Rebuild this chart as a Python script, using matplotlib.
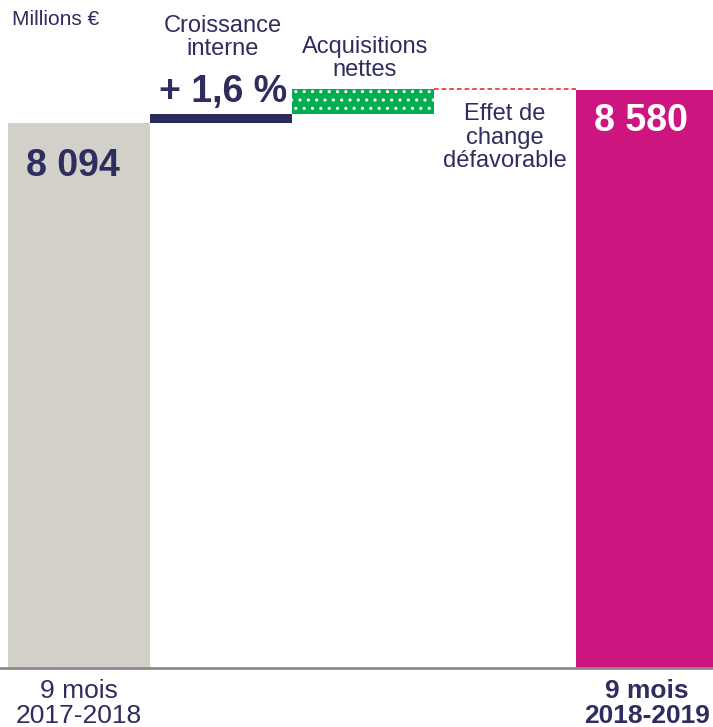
import numpy as np
import matplotlib.pyplot as plt

# ── Data ─────────────────────────────────────────────────────────────────────

STEPS   = ["9 mois\n2017-2018", "Croissance\ninterne", "Acquisitions\nnettes",
           "Effet de\nchange\ndéfavorable", "9 mois\n2018-2019"]
VALUES  = [8094, 130, 374, -18, 8580]      # start, deltas, end (millions €)
START_LABEL = "8 094"
END_LABEL   = "8 580"
GROWTH_LABEL = "+ 1,6 %"

# ── Style ────────────────────────────────────────────────────────────────────

TEXT   = "#2e2d5f"
GREY   = "#d3d0c9"
NAVY   = "#2b2a5c"
GREEN  = "#00ad4f"
PINK   = "#cc157f"
YMAX   = 9920

plt.rcParams["font.family"] = ["Liberation Sans", "DejaVu Sans"]
plt.rcParams["hatch.linewidth"] = 1.1

fig = plt.figure(figsize=(7.13, 7.27), dpi=100)
ax = fig.add_axes([0, 59 / 727, 1, 668 / 727])

x = np.arange(len(VALUES))
start, growth, acq, fx, end = VALUES
lvl1 = start + growth
lvl2 = lvl1 + acq

ax.bar(x[0], start, width=1, color=GREY)
ax.bar(x[1], growth, bottom=start, width=1, color=NAVY)
ax.bar(x[2], acq, bottom=lvl1, width=1, color=GREEN, edgecolor="white",
       linewidth=0, hatch="..")
ax.hlines(lvl2, x[3] - 0.5, x[4] - 0.5, colors="#e02020", linestyles=(0, (3, 2)),
          linewidth=1.1)
ax.bar(x[4], end, width=1, color=PINK)

ax.set_xlim(-0.5 - 8 / 142, 4.5 - 5 / 142)
ax.set_ylim(0, YMAX)
for s in ["top", "right", "left"]:
    ax.spines[s].set_visible(False)
ax.spines["bottom"].set_color("#8a8a8a")
ax.spines["bottom"].set_linewidth(2)
ax.set_yticks([])

ax.set_xticks([x[0], x[4]])
ax.set_xticklabels([STEPS[0], STEPS[4]], fontsize=19, color=TEXT, linespacing=1.04)
ax.tick_params(axis="x", length=0, pad=8)
ax.get_xticklabels()[1].set_fontweight("bold")

# value labels
ax.text(x[0] - 0.04, start - 790, START_LABEL, ha="center", va="baseline",
        fontsize=27, fontweight="bold", color=TEXT)
ax.text(x[4] - 0.04, end - 610, END_LABEL, ha="center", va="baseline",
        fontsize=27, fontweight="bold", color="white")
ax.annotate(GROWTH_LABEL, (x[1], lvl1), xytext=(1.5, 8.5), textcoords="offset points",
            ha="center", va="baseline", fontsize=27, fontweight="bold", color=TEXT)

# step names (baseline = last line)
ax.annotate(STEPS[1], (x[1], lvl1), xytext=(1, 42.5), textcoords="offset points",
            ha="center", va="baseline", fontsize=17, color=TEXT, linespacing=1.07)
ax.annotate(STEPS[2], (x[2], lvl2), xytext=(1.5, 9.4), textcoords="offset points",
            ha="center", va="baseline", fontsize=17, color=TEXT, linespacing=1.07)
ax.annotate(STEPS[3], (x[3], lvl2), xytext=(0, -56), textcoords="offset points",
            ha="center", va="baseline", fontsize=17, color=TEXT, linespacing=1.07)

fig.text(12 / 713, 1 - 25 / 727, "Millions €", ha="left", va="baseline",
         fontsize=15, color=TEXT)

fig.savefig("out.png", dpi=100)
